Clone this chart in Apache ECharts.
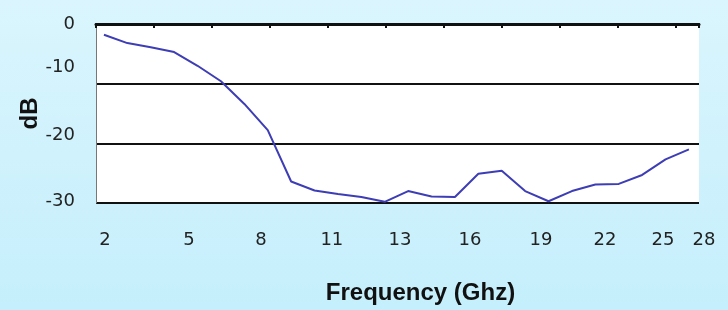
<!DOCTYPE html>
<html>
<head>
<meta charset="utf-8">
<script src="https://cdn.jsdelivr.net/npm/echarts@6/dist/echarts.min.js"></script>
<style>
  html, body { margin: 0; padding: 0; }
  #chart { width: 728px; height: 310px; }
</style>
</head>
<body>
<div id="chart"></div>
<script>
// measured response, one point per GHz
var freq = [2, 3, 4, 5, 6, 7, 8, 9, 10, 11, 12, 13, 14, 15, 16, 17, 18, 19, 20, 21, 22, 23, 24, 25, 26, 27];
var gainDb = [-1.8, -3.2, -3.9, -4.7, -7.0, -9.6, -13.4, -17.8, -26.4, -27.9, -28.5, -29.0, -29.8,
              -28.0, -28.9, -29.0, -25.1, -24.6, -28.0, -29.7, -28.0, -26.9, -26.8, -25.3, -22.7, -21.0];

// tick labels as printed on the original (they sit a bit off the true values)
var xTickLabels = ['2', '5', '8', '11', '13', '16', '19', '22', '25', '28'];
var xTickAt = [2.04, 5.63, 8.71, 11.74, 14.65, 17.64, 20.68, 23.41, 25.89, 27.43];
var yTickLabels = ['0', '-10', '-20', '-30'];
var yTickAt = [0, -7.2, -18.6, -29.8];

var chart = echarts.init(document.getElementById('chart'));

var tickFont = { fontFamily: 'DejaVu Sans', fontSize: 18, color: '#222' };

chart.setOption({
  animation: false,
  backgroundColor: new echarts.graphic.LinearGradient(0, 0, 0, 1, [
    { offset: 0, color: '#daf5fd' },
    { offset: 1, color: '#c5effc' }
  ]),
  grid: {
    left: 96, right: 29, top: 24, bottom: 102,
    show: true, backgroundColor: '#fff', borderWidth: 0
  },
  xAxis: [
    {
      type: 'value',
      min: 1.66,
      max: 27.43,
      position: 'bottom',
      name: 'Frequency (Ghz)',
      nameLocation: 'middle',
      nameGap: 78,
      nameMoveOverlap: false,
      nameTextStyle: {
        fontFamily: 'Liberation Sans', fontWeight: 'bold', fontSize: 24, color: '#111',
        padding: [0, 0, 0, 46]
      },
      axisLine: { show: true, lineStyle: { color: '#111', width: 3 } },
      axisTick: { show: false },
      splitLine: { show: false },
      axisLabel: Object.assign({
        margin: 28,
        customValues: xTickAt,
        formatter: function (v) {
          var i = xTickAt.indexOf(v);
          if (i === xTickLabels.length - 1) return '{e|' + xTickLabels[i] + '}';
          return i >= 0 ? xTickLabels[i] : '';
        },
        rich: { e: { fontFamily: 'DejaVu Sans', fontSize: 18, color: '#222', padding: [0, 0, 0, 10] } }
      }, tickFont)
    },
    {
      type: 'value',
      min: 0,
      max: 10.4,
      interval: 1,
      position: 'top',
      axisLine: { show: true, lineStyle: { color: '#111', width: 2 } },
      axisTick: { show: true, inside: true, length: 4, lineStyle: { color: '#111', width: 2 } },
      axisLabel: { show: false },
      splitLine: { show: false }
    }
  ],
  yAxis: {
    type: 'value',
    min: -30,
    max: 0,
    interval: 10,
    name: 'dB',
    nameLocation: 'middle',
    nameGap: 54,
    nameMoveOverlap: false,
    nameTextStyle: { fontFamily: 'Liberation Sans', fontWeight: 'bold', fontSize: 24, color: '#111' },
    axisLine: { show: true, lineStyle: { color: '#777', width: 1 } },
    axisTick: { show: false },
    splitLine: { show: true, lineStyle: { color: '#111', width: 2 } },
    axisLabel: Object.assign({
      margin: 21,
      customValues: yTickAt,
      formatter: function (v) {
        var i = yTickAt.indexOf(v);
        return i >= 0 ? yTickLabels[i] : '';
      }
    }, tickFont)
  },
  series: [
    {
      type: 'line',
      data: freq.map(function (f, i) { return [f, gainDb[i]]; }),
      showSymbol: false,
      lineStyle: { color: '#3d3db5', width: 2 }
    }
  ]
});
</script>
</body>
</html>
